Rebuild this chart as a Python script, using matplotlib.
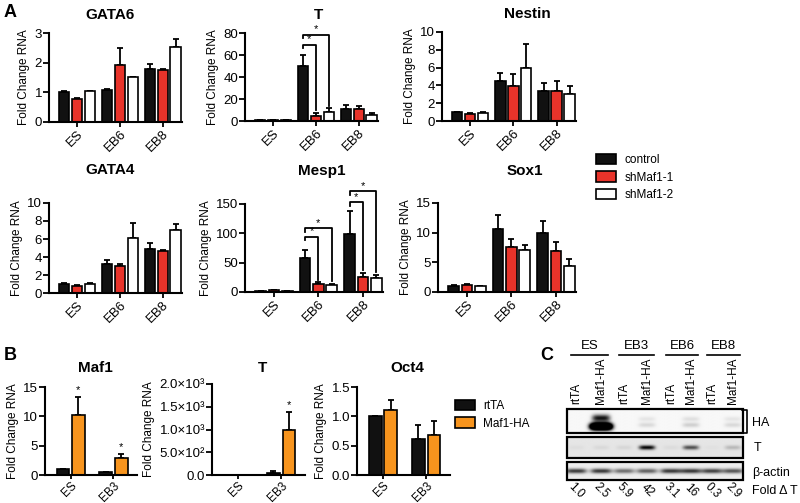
import numpy as np
import matplotlib
matplotlib.use('Agg')
import matplotlib.pyplot as plt
from matplotlib.patches import Rectangle

plt.rcParams['font.family'] = ['Liberation Sans', 'DejaVu Sans']

W, H = 800, 503

# ---------------- panel A: qPCR after Maf1 knockdown ----------------
stages_a = ['ES', 'EB6', 'EB8']
series_a = ['control', 'shMaf1-1', 'shMaf1-2']
colors_a = ['#111111', '#e8332a', '#ffffff']

# values per series (control, shMaf1-1, shMaf1-2), one per stage
gata6_mean = [[1.01, 1.07, 1.80], [0.78, 1.93, 1.74], [1.03, 1.51, 2.53]]
gata6_err = [[0.02, 0.03, 0.14], [0.02, 0.58, 0.03], [0.02, 0.02, 0.28]]

t_mean = [[1.0, 50, 11], [0.5, 4.5, 10.5], [0.6, 8, 5.5]]
t_err = [[0.3, 10, 4], [0.2, 3, 3.5], [0.2, 3.5, 2]]

nestin_mean = [[1.0, 4.5, 3.37], [0.82, 3.93, 3.37], [0.94, 6.0, 3.07]]
nestin_err = [[0.05, 0.9, 0.95], [0.05, 1.3, 1.1], [0.05, 2.6, 0.86]]

gata4_mean = [[1.05, 3.2, 4.9], [0.82, 2.95, 4.67], [1.05, 6.13, 6.95]]
gata4_err = [[0.03, 0.46, 0.6], [0.03, 0.23, 0.13], [0.03, 1.6, 0.75]]

mesp1_mean = [[1, 58, 99], [3, 13, 26], [2, 12, 24.5]]
mesp1_err = [[0.5, 14, 39], [1, 3.5, 7], [0.5, 2, 4.5]]

sox1_mean = [[1.08, 10.7, 9.9], [1.25, 7.6, 6.93], [0.97, 7.05, 4.43]]
sox1_err = [[0.05, 2.2, 2.1], [0.1, 1.3, 1.5], [0.05, 0.85, 1.2]]

# significance brackets: (stage index, series index, bracket height)
t_sig = [(1, 1, 69.5), (1, 2, 78.5)]
mesp1_sig = [(1, 1, 94), (1, 2, 109), (2, 1, 153), (2, 2, 172)]

# ---------------- panel B: Maf1-HA overexpression ----------------
stages_b = ['ES', 'EB3']
series_b = ['rtTA', 'Maf1-HA']
colors_b = ['#111111', '#f7941d']

maf1_mean = [[1.0, 0.45], [10.3, 2.9]]
maf1_err = [[0.02, 0.05], [3.0, 0.7]]
maf1_star = [(0, 1), (1, 1)]

tb_mean = [[1, 50], [1, 1000]]
tb_err = [[0.5, 30], [0.5, 390]]
tb_star = [(1, 1)]

oct4_mean = [[1.0, 0.61], [1.1, 0.69]]
oct4_err = [[0.01, 0.24], [0.17, 0.23]]

# ---------------- panel C: western blot ----------------
blot_groups = ['ES', 'EB3', 'EB6', 'EB8']
blot_lanes = ['rtTA', 'Maf1-HA'] * 4
ha_band = [0.0, 1.0, 0.0, 0.12, 0.0, 0.16, 0.0, 0.12]
t_band = [0.03, 0.05, 0.06, 0.9, 0.04, 0.6, 0.02, 0.18]
actin_band = [0.7, 0.72, 0.5, 0.55, 0.72, 0.72, 0.68, 0.6]
fold_t = ['1.0', '2.5', '5.9', '42', '3.1', '16', '0.3', '2.9']


fig = plt.figure(figsize=(W / 100, H / 100), dpi=100)

# overlay in pixel coordinates for letters, titles and the blot
ov = fig.add_axes([0, 0, 1, 1])
ov.set_xlim(0, W)
ov.set_ylim(H, 0)
ov.axis('off')


def px_axes(l, t, r, b):
    return fig.add_axes([l / W, 1 - b / H, (r - l) / W, (b - t) / H])


def style(ax, ymax, step, ticklabels=None, xsize=9.5):
    for s in ['top', 'right']:
        ax.spines[s].set_visible(False)
    for s in ['left', 'bottom']:
        ax.spines[s].set_linewidth(1.5)
    ax.tick_params(direction='out', length=4, width=1.3, labelsize=9.5, pad=1)
    ax.tick_params(axis='x', labelsize=xsize, length=3.5)
    ax.set_ylim(0, ymax)
    ticks = np.arange(0, ymax + step / 2, step)
    ax.set_yticks(ticks)
    if ticklabels is not None:
        ax.set_yticklabels(ticklabels)
    ax.set_ylabel('Fold Change RNA', fontsize=8.5, labelpad=3)


def bars(ax, stages, means, errs, colors, offsets, width):
    ind = np.arange(len(stages))
    handles = []
    for n in range(len(means)):
        x = ind + offsets[n]
        r = ax.bar(x, means[n], width, color=colors[n], edgecolor='k', linewidth=1.2, zorder=2)
        ax.errorbar(x, means[n], yerr=[np.zeros(len(stages)), errs[n]], fmt='none',
                    ecolor='k', elinewidth=1.3, capsize=2.5, capthick=1.3, zorder=1)
        handles.append(r)
    ax.set_xticks(ind)
    ax.set_xticklabels(stages, rotation=45, ha='right', va='top', rotation_mode='anchor')
    return handles


def brackets(ax, sig, means, errs, offsets, ymax):
    for (g, s, yb) in sig:
        x0 = g + offsets[0]
        x1 = g + offsets[s]
        ytop = means[s][g] + errs[s][g] + 0.03 * ymax
        ax.plot([x0, x0, x1, x1], [yb - 0.04 * ymax, yb, yb, ytop], color='k', lw=1.3,
                clip_on=False, zorder=3)
        ax.text((x0 + x1) / 2, yb + 0.005 * ymax, '*', ha='center', va='bottom', fontsize=8,
                clip_on=False)


off_a = [-0.3, 0.0, 0.3]
wid_a = 0.24
xlim_a = (-0.65, 2.45)

panels_a = [
    ('GATA6', (49, 33, 182, 122), gata6_mean, gata6_err, 3, 1, None, (110, 15)),
    ('T', (245, 33, 378, 121), t_mean, t_err, 80, 20, t_sig, (318, 15)),
    ('Nestin', (442, 32, 576, 121), nestin_mean, nestin_err, 10, 2, None, (527, 14)),
    ('GATA4', (49, 203, 182, 293), gata4_mean, gata4_err, 10, 2, None, (110, 170)),
    ('Mesp1', (245, 204, 383, 292), mesp1_mean, mesp1_err, 150, 50, mesp1_sig, (322, 171)),
    ('Sox1', (438, 203, 576, 292), sox1_mean, sox1_err, 15, 5, None, (525, 171)),
]

handles_a = None
for (name, box, m, e, ymax, step, sig, tpos) in panels_a:
    ax = px_axes(*box)
    h = bars(ax, stages_a, m, e, colors_a, off_a, wid_a)
    handles_a = h
    style(ax, ymax, step)
    ax.set_xlim(*xlim_a)
    if sig:
        brackets(ax, sig, m, e, off_a, ymax)
    ov.text(tpos[0], tpos[1], name, ha='center', va='center', fontsize=11, fontweight='bold')

fig.legend(handles_a, series_a, loc='upper left', bbox_to_anchor=(596 / W, 1 - 154 / H),
           frameon=False, fontsize=8.5, handlelength=1.7, handleheight=0.95,
           labelspacing=0.45, handletextpad=0.7, borderpad=0, borderaxespad=0)

# ---------------- panel B ----------------
off_b = [-0.18, 0.18]
wid_b = 0.3
xlim_b = (-0.6, 1.55)

panels_b = [
    ('Maf1', (45, 387, 137, 475), maf1_mean, maf1_err, 15, 5, None, maf1_star, (95, 368)),
    ('T', (212, 384, 305, 475), tb_mean, tb_err, 2000, 500,
     ['0.0', '5.0×10²', '1.0×10³', '1.5×10³', '2.0×10³'], tb_star, (262, 368)),
    ('Oct4', (357, 387, 450, 475), oct4_mean, oct4_err, 1.5, 0.5,
     ['0.0', '0.5', '1.0', '1.5'], None, (407, 368)),
]

handles_b = None
for (name, box, m, e, ymax, step, tl, stars, tpos) in panels_b:
    ax = px_axes(*box)
    h = bars(ax, stages_b, m, e, colors_b, off_b, wid_b)
    handles_b = h
    style(ax, ymax, step, tl, xsize=8.5)
    ax.tick_params(axis='x', length=3, pad=0.5)
    ax.set_xlim(*xlim_b)
    if stars:
        for (g, s) in stars:
            ax.text(g + off_b[s], m[s][g] + e[s][g] + 0.02 * ymax, '*', ha='center',
                    va='bottom', fontsize=8, clip_on=False)
    ov.text(tpos[0], tpos[1], name, ha='center', va='center', fontsize=11, fontweight='bold')

fig.legend(handles_b, series_b, loc='upper left', bbox_to_anchor=(455 / W, 1 - 400 / H),
           frameon=False, fontsize=8.5, handlelength=1.7, handleheight=0.95,
           labelspacing=0.45, handletextpad=0.7, borderpad=0, borderaxespad=0)

# ---------------- panel C: blot drawn from band intensities ----------------
lane_x = [576, 601, 624, 647, 671, 691, 712, 733]
blot_left, blot_right = 567, 743
strips = [
    # (top, bottom, band intensities, band centre y, band half-height, half-width, background)
    (409, 433, ha_band, 425, 2.4, 8.5, 0.97),
    (437, 458, t_band, 447.5, 2.2, 8.0, 0.9),
    (462, 480, actin_band, 471, 2.4, 10.5, 0.93),
]
for k, (top, bot, inten, cy, wy, wx, bg) in enumerate(strips):
    xs = np.linspace(blot_left, blot_right, 400)
    ys = np.linspace(top, bot, 80)
    X, Y = np.meshgrid(xs, ys)
    dark = np.zeros_like(X)
    for lx, a in zip(lane_x, inten):
        if k == 0 and a >= 0.9:
            # saturated HA band in ES Maf1-HA lane
            dark += 3.0 * np.exp(-((X - lx) / 11) ** 4) * np.exp(-((Y - 426.5) / 3.5) ** 2)
            dark += 0.9 * np.exp(-((X - lx) / 9) ** 4) * np.exp(-((Y - 418) / 3.5) ** 2)
        elif k == 0:
            dark += a * np.exp(-((X - lx) / wx) ** 4) * np.exp(-((Y - cy) / wy) ** 2)
            dark += 0.6 * a * np.exp(-((X - lx) / wx) ** 4) * np.exp(-((Y - (cy - 6)) / wy) ** 2)
        else:
            dark += a * np.exp(-((X - lx) / wx) ** 4) * np.exp(-((Y - cy) / wy) ** 2)
    img = np.clip(bg - dark, 0, 1)
    ov.imshow(img, extent=(blot_left, blot_right, bot, top), cmap='gray', vmin=0, vmax=1,
              aspect='auto', interpolation='bilinear', zorder=1)
    ov.add_patch(Rectangle((blot_left, top), blot_right - blot_left, bot - top, fill=False,
                           edgecolor='k', lw=1.6, zorder=2))
ov.set_xlim(0, W)
ov.set_ylim(H, 0)

# group headers with underlines
for i, g in enumerate(blot_groups):
    xa, xb = lane_x[2 * i] - 5, lane_x[2 * i + 1] + 7
    ov.plot([xa, xb], [355, 355], color='k', lw=1.2)
    ov.text((xa + xb) / 2, 346, g, ha='center', va='center', fontsize=9.5)
for lx, name in zip(lane_x, blot_lanes):
    ov.text(lx, 404, name, rotation=90, ha='center', va='bottom', fontsize=8.5)
for lx, f in zip(lane_x, fold_t):
    ov.text(lx, 491, f, rotation=-45, ha='center', va='center', fontsize=8.5)

ov.plot([742, 747, 747, 742], [410, 410, 433, 433], color='k', lw=1.2)
ov.text(752, 423, 'HA', ha='left', va='center', fontsize=9)
ov.text(754, 448, 'T', ha='left', va='center', fontsize=9)
ov.text(752, 473, 'β-actin', ha='left', va='center', fontsize=9)
ov.text(752, 491, 'Fold Δ T', ha='left', va='center', fontsize=9)

# panel letters
ov.text(4, 12, 'A', ha='left', va='center', fontsize=13, fontweight='bold')
ov.text(4, 355, 'B', ha='left', va='center', fontsize=13, fontweight='bold')
ov.text(540, 355, 'C', ha='left', va='center', fontsize=13, fontweight='bold')

plt.savefig('out.png', dpi=100)
